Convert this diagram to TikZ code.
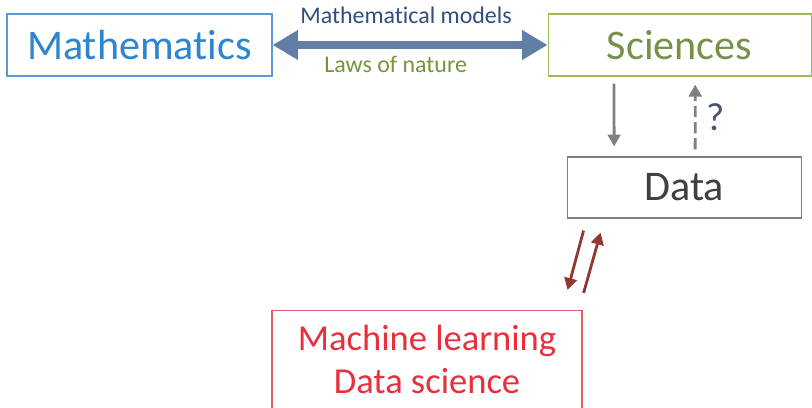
\documentclass[tikz,border=0pt]{standalone}
\usepackage{fontspec}
\setmainfont[Ligatures=NoCommon]{Carlito}
\usetikzlibrary{arrows.meta,positioning}

\definecolor{mathline}{RGB}{91,155,213}
\definecolor{mathtext}{RGB}{46,132,206}
\definecolor{sciline}{RGB}{155,187,89}
\definecolor{scitext}{RGB}{118,146,72}
\definecolor{dataline}{RGB}{127,127,127}
\definecolor{datatext}{RGB}{64,64,64}
\definecolor{mlline}{RGB}{224,96,96}
\definecolor{mltext}{RGB}{232,48,60}
\definecolor{modelstext}{RGB}{47,78,126}
\definecolor{lawstext}{RGB}{119,147,60}
\definecolor{bridge}{RGB}{96,126,166}
\definecolor{flow}{RGB}{128,128,128}
\definecolor{mlflow}{RGB}{148,54,52}
\definecolor{query}{RGB}{70,86,112}

\begin{document}
\begin{tikzpicture}[x=0.025cm,y=-0.025cm,node distance=1cm]
\tikzstyle{box}=[draw,rectangle,line width=0.8pt,inner sep=0pt]
\tikzstyle{bigtext}=[font=\fontsize{30}{36}\selectfont]
\tikzstyle{flowarrow}=[line width=2pt,-{Triangle[length=8.5pt,width=9pt]}]
\useasboundingbox (0,0) rectangle (812,408);
\node [box,bigtext,draw=mathline,text=mathtext,minimum width=6.625cm,minimum height=1.55cm] (math) at (139.5,45) {Mathematics};
\node [box,bigtext,draw=sciline,text=scitext,minimum width=6.575cm,minimum height=1.55cm,right of=math,node distance=13.5cm] (sci) {Sciences};
\node [box,font=\fontsize{30}{36}\selectfont,draw=dataline,text=datatext,minimum width=5.85cm,minimum height=1.525cm,below of=sci,node distance=3.5625cm,xshift=0.1125cm] (data) {Data};
\node [box,font=\fontsize{26}{30}\selectfont,draw=mlline,text=mltext,minimum width=7.75cm,inner ysep=10.6pt,text depth=2cm,align=center,anchor=north] (ml) at (427,310) {Machine learning\\Data science};
% models and laws between the two fields
\draw [bridge,line width=5pt,{Triangle[length=18pt,width=20pt]}-{Triangle[length=18pt,width=20pt]}] (math) -- (sci)
    node [midway,above=9pt,xshift=-0.1cm,text=modelstext,font=\fontsize{17}{20}\selectfont] (models) {Mathematical models}
    node [midway,below=2pt,xshift=-0.36cm,text=lawstext,font=\fontsize{17}{20}\selectfont] (laws) {Laws of nature};
% sciences <-> data
\draw [flowarrow,flow] ([xshift=-1.64cm,yshift=-0.175cm]sci.south) -- ([xshift=-1.75cm,yshift=0.25cm]data.north);
\draw [flowarrow,flow,dash pattern=on 8pt off 3.5pt] ([xshift=0.275cm,yshift=0.175cm]data.north) -- ([xshift=0.39cm,yshift=-0.2cm]sci.south)
    node [midway,right=4pt,text=query,font=\fontsize{28}{32}\selectfont] (q) {?};
% data <-> machine learning
\draw [flowarrow,mlflow] ([xshift=0.425cm,yshift=-0.3cm]data.south west) -- ([xshift=-0.375cm,yshift=0.5cm]ml.north east);
\draw [flowarrow,mlflow] ([xshift=0.025cm,yshift=0.425cm]ml.north east) -- ([xshift=0.85cm,yshift=-0.35cm]data.south west);
\end{tikzpicture}
\end{document}
